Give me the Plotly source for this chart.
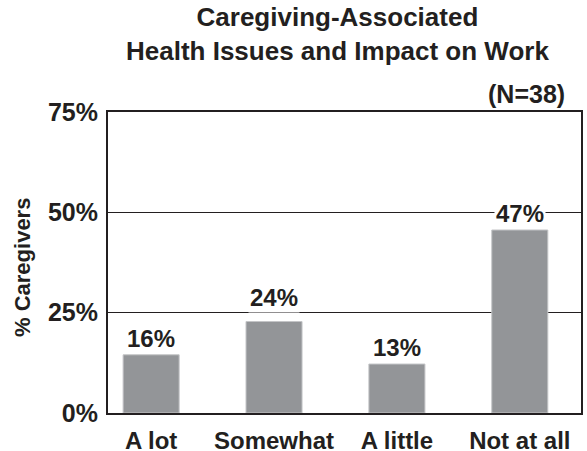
import plotly.graph_objects as go

categories = ["A lot", "Somewhat", "A little", "Not at all"]
bar_values = [14.5, 22.8, 12.2, 45.6]
value_labels = ["16%", "24%", "13%", "47%"]
y_ticks = [0, 25, 50, 75]
y_tick_labels = ["0%", "25%", "50%", "75%"]

# extra lift (px) for labels that the original nudged off a gridline
label_lift = {"Somewhat": 8}

FONT = "Liberation Sans, Arial, Helvetica, sans-serif"
INK = "#231f20"
PLOT_L, PLOT_R, PLOT_T, PLOT_B = 108, 581, 112, 413
PW, PH = PLOT_R - PLOT_L, PLOT_B - PLOT_T

fig = go.Figure()
fig.add_trace(go.Bar(
    x=categories, y=bar_values,
    width=0.456,
    marker=dict(color="#939598", line=dict(color="#c4c5c7", width=1)),
    hoverinfo="skip",
))

for c, v, t in zip(categories, bar_values, value_labels):
    fig.add_annotation(
        x=c, y=v, text="<b>%s</b>" % t, showarrow=False,
        yanchor="bottom", xanchor="center", yshift=1 + label_lift.get(c, 0),
        font=dict(family=FONT, size=24, color=INK),
        bgcolor="white", borderpad=1,
    )

fig.add_annotation(
    xref="paper", yref="paper", x=(567 - PLOT_L) / PW, y=1.0, yshift=2,
    xanchor="right", yanchor="bottom", showarrow=False,
    text="<b>(N=38)</b>", font=dict(family=FONT, size=25, color=INK),
)

fig.add_annotation(
    xref="paper", yref="paper", x=(8 - PLOT_L) / PW, y=0.5 - 5 / PH,
    xanchor="left", yanchor="middle", showarrow=False, textangle=-90,
    text="<b>% Caregivers</b>", font=dict(family=FONT, size=22, color=INK),
)

fig.add_annotation(
    xref="paper", yref="paper", x=(337 - PLOT_L) / PW, y=1 + (PLOT_T - 0) / PH,
    xanchor="center", yanchor="top", showarrow=False,
    text="<b>Caregiving-Associated<br>Health Issues and Impact on Work</b>",
    font=dict(family=FONT, size=26, color=INK),
)

fig.update_layout(
    width=587, height=451,
    margin=dict(l=PLOT_L, r=587 - PLOT_R, t=PLOT_T, b=451 - PLOT_B),
    paper_bgcolor="white", plot_bgcolor="white",
    showlegend=False,
)
fig.update_xaxes(
    type="category", range=[-0.351, 3.498], automargin=False,
    showline=True, linecolor=INK, linewidth=2, mirror=True,
    showgrid=False, ticks="", zeroline=False,
    tickfont=dict(family=FONT, size=24, color=INK),
    ticklabelstandoff=5,
    tickvals=categories, ticktext=["<b>%s</b>" % c for c in categories],
)
fig.update_yaxes(
    range=[0, 75], automargin=False,
    tickvals=y_ticks, ticktext=["<b>%s</b>" % t for t in y_tick_labels],
    showline=True, linecolor=INK, linewidth=2, mirror=True,
    showgrid=True, gridcolor=INK, gridwidth=1.5, zeroline=False, ticks="",
    tickfont=dict(family=FONT, size=25, color=INK),
    ticklabelstandoff=3,
)

fig.write_html(
    "out.html",
    config={"displayModeBar": False, "staticPlot": True},
    post_script="document.body.style.margin='0';document.body.style.overflow='hidden';",
)
